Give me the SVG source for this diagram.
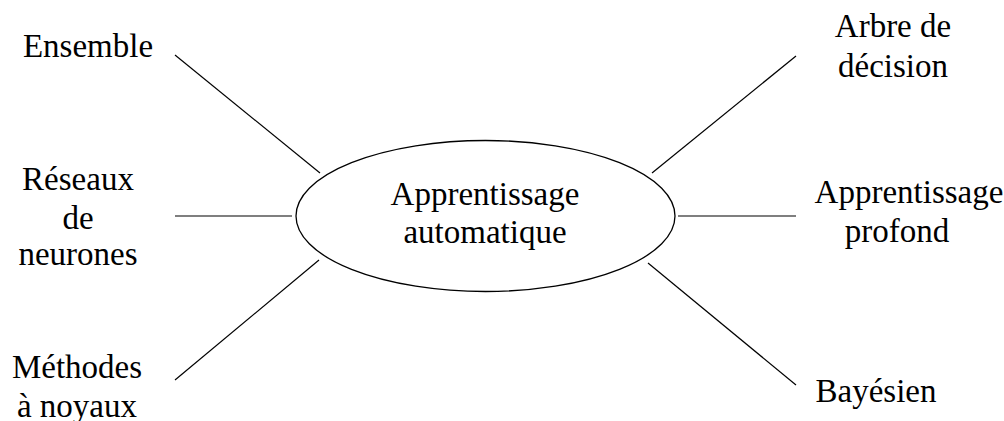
<svg xmlns="http://www.w3.org/2000/svg" width="1004" height="421" viewBox="0 0 1004 421">
  <style>
    text { font-family: "Liberation Serif", "Times New Roman", serif; font-size: 33px; fill: #000; text-anchor: middle; }
    .edge { stroke: #000; stroke-width: 1.2; fill: none; }
    .hub { stroke: #000; stroke-width: 1.3; fill: #fff; }
  </style>
  <rect width="1004" height="421" fill="#fff"/>

  <!-- spokes from the central topic to each branch -->
  <g id="connectors">
    <line class="edge" x1="175" y1="55" x2="320" y2="173"/>
    <line class="edge" x1="175" y1="216" x2="292" y2="216"/>
    <line class="edge" x1="175" y1="380" x2="319" y2="260"/>
    <line class="edge" x1="652" y1="173" x2="796" y2="56"/>
    <line class="edge" x1="678" y1="216" x2="796" y2="216"/>
    <line class="edge" x1="648" y1="263" x2="796" y2="385"/>
  </g>

  <g id="center">
    <ellipse class="hub" cx="485.5" cy="216" rx="189.5" ry="75.5"/>
    <text x="485" y="205">Apprentissage</text>
    <text x="485" y="243">automatique</text>
  </g>

  <g id="ensemble">
    <text x="88" y="57">Ensemble</text>
  </g>

  <g id="reseaux">
    <text x="78" y="190">Réseaux</text>
    <text x="78" y="229">de</text>
    <text x="78" y="265">neurones</text>
  </g>

  <g id="methodes">
    <text x="77" y="378">Méthodes</text>
    <text x="77" y="417">à noyaux</text>
  </g>

  <g id="arbre">
    <text x="893" y="37">Arbre de</text>
    <text x="893" y="77">décision</text>
  </g>

  <g id="profond">
    <text x="909" y="203">Apprentissage</text>
    <text x="897" y="242">profond</text>
  </g>

  <g id="bayesien">
    <text x="876" y="402">Bayésien</text>
  </g>
</svg>
